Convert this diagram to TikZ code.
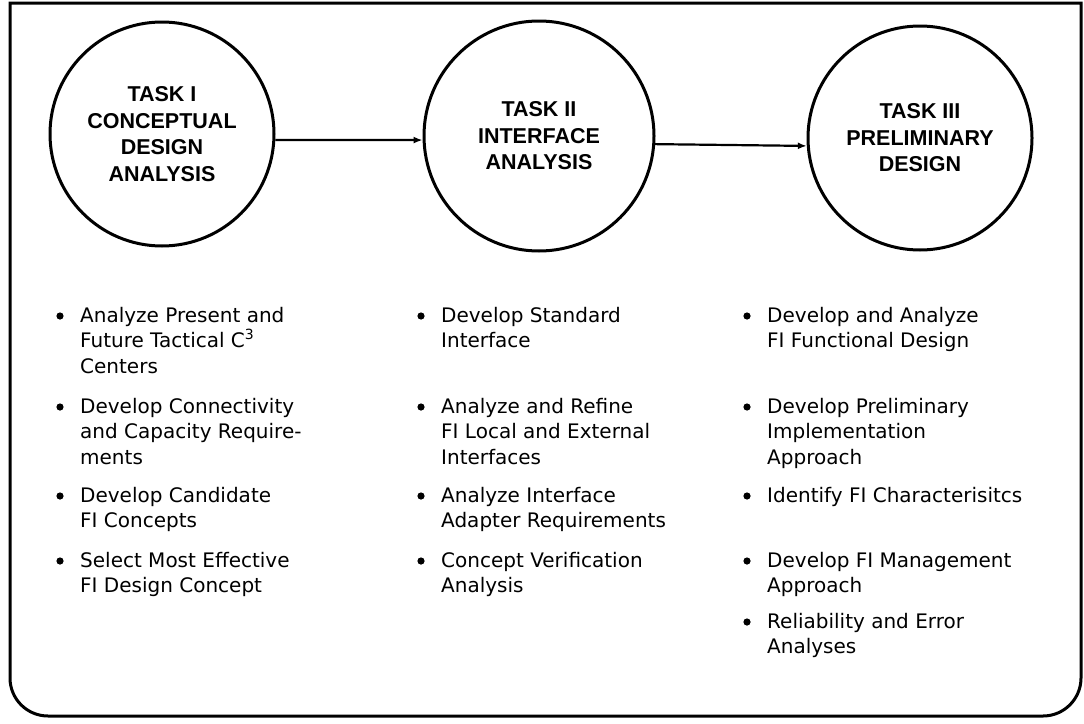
\documentclass[tikz,border=0pt]{standalone}
\usepackage{fontspec}
\newfontfamily\taskfont{Liberation Sans}
\newfontfamily\listfont{DejaVu Sans}
\usetikzlibrary{arrows.meta}
\begin{document}
\begin{tikzpicture}[x=1pt,y=-1pt,
  taskcircle/.style={draw, circle, line width=3pt, inner sep=0pt, align=center,
    font=\taskfont\bfseries\fontsize{21.5pt}{26.5pt}\selectfont},
  flow/.style={line width=2.2pt, -{Latex[length=9pt,width=7pt]}},
  listitem/.style={anchor=base west, align=left, inner sep=0pt,
    font=\listfont\fontsize{20pt}{25.5pt}\selectfont},
  bulletdot/.style={fill=black},
  frame/.style={line width=3pt, line join=miter}]
\useasboundingbox (0,0) rectangle (1084,723);
% outer frame: square top corners, rounded bottom corners
\draw[frame] (10,3) -- (1081,3) -- (1081,678) arc (0:90:38) -- (48,716) arc (90:180:38) -- cycle;
% task circles
\node[taskcircle, minimum size=224pt] (c1) at (162,134) {TASK I\\CONCEPTUAL\\DESIGN\\ANALYSIS};
\node[taskcircle, minimum size=230pt] (c2) at (539,136) {TASK II\\INTERFACE\\ANALYSIS};
\node[taskcircle, minimum size=224pt] (c3) at (920,138) {TASK III\\PRELIMINARY\\DESIGN};
% connectors
\draw[flow] (c1.-3) -- (c2.182);
\draw[flow] (c2.-4) -- (c3.184);
% list items (positioned at the baseline of their last line)
% column 1
\node[listitem] (a1) at (80,373) {Analyze Present and\\Future Tactical C\textsuperscript{3}\\Centers};
\node[listitem] (a2) at (80,464) {Develop Connectivity\\and Capacity Require-\\ments};
\node[listitem] (a3) at (80,527.5) {Develop Candidate\\FI Concepts};
\node[listitem] (a4) at (80,592.5) {Select Most Effective\\FI Design Concept};
% column 2
\node[listitem] (b1) at (441,347.5) {Develop Standard\\Interface};
\node[listitem] (b2) at (441,464) {Analyze and Refine\\FI Local and External\\Interfaces};
\node[listitem] (b3) at (441,527.5) {Analyze Interface\\Adapter Requirements};
\node[listitem] (b4) at (441,592.5) {Concept Verification\\Analysis};
% column 3
\node[listitem] (d1) at (767,347.5) {Develop and Analyze\\FI Functional Design};
\node[listitem] (d2) at (767,464) {Develop Preliminary\\Implementation\\Approach};
\node[listitem] (d3) at (767,502) {Identify FI Characterisitcs};
\node[listitem] (d4) at (767,592.5) {Develop FI Management\\Approach};
\node[listitem] (d5) at (767,653.5) {Reliability and Error\\Analyses};
% bullets beside the first line of each item
\foreach \n/\k in {a1/3,a2/3,a3/2,a4/2,b1/2,b2/3,b3/2,b4/2,d1/2,d2/3,d3/1,d4/2,d5/2}
  \fill[bulletdot] ([xshift=-20pt,yshift={6pt+25.5pt*(\k-1)}]\n.base west) circle (3.6pt);
\end{tikzpicture}
\end{document}
